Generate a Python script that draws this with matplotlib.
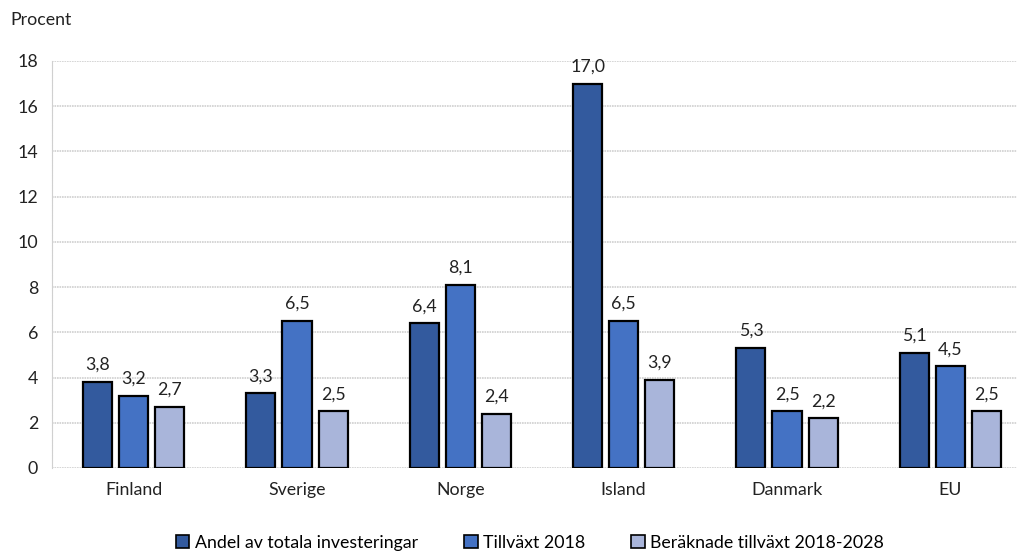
import matplotlib
matplotlib.use("Agg")
import matplotlib.pyplot as plt
import numpy as np
from matplotlib.patches import Patch

categories = ["Finland", "Sverige", "Norge", "Island", "Danmark", "EU"]
andel = [3.8, 3.3, 6.4, 17.0, 5.3, 5.1]
tillvaxt = [3.2, 6.5, 8.1, 6.5, 2.5, 4.5]
beraknad = [2.7, 2.5, 2.4, 3.9, 2.2, 2.5]
series_names = ["Andel av totala investeringar", "Tillväxt 2018", "Beräknade tillväxt 2018-2028"]
colors = ["#335A9E", "#4472C4", "#A9B5DA"]
yticks = [0, 2, 4, 6, 8, 10, 12, 14, 16, 18]

plt.rcParams['font.family'] = ['Lato', 'DejaVu Sans']
FS = 12.8

W, H = 1017, 552
fig = plt.figure(figsize=(W/100, H/100), dpi=100)
left, right = 52, 1032
top, bottom = 61, 468
ax = fig.add_axes([left/W, 1-bottom/H, (right-left)/W, (bottom-top)/H])

x = np.arange(len(categories))
bw = 0.178
step = 0.221
for i, (vals, c, name) in enumerate(zip([andel, tillvaxt, beraknad], colors, series_names)):
    pos = x + (i-1)*step
    ax.bar(pos, vals, width=bw, color=c, edgecolor="black", linewidth=1.6, label=name, zorder=3)
    for p, v in zip(pos, vals):
        ax.text(p, v + 0.4, f"{v:.1f}".replace(".", ","), ha="center", va="bottom", fontsize=FS, color="#222222")

ax.set_xlim(-0.5, 5.5)
ax.set_ylim(0, 18)
ax.set_yticks(yticks)
ax.set_yticklabels([str(t) for t in yticks], fontsize=FS, color="#222222")
ax.set_xticks(x)
ax.set_xticklabels(categories, fontsize=FS, color="#222222")
ax.tick_params(axis="both", length=0, pad=10)
ax.tick_params(axis="x", pad=10)
ax.grid(axis="y", color="#D0D0D0", linewidth=1.2, linestyle=(0, (1, 0.5)), zorder=0)
for s in ["top", "right", "bottom"]:
    ax.spines[s].set_visible(False)
ax.spines["left"].set_color("#D0D0D0")
ax.spines["left"].set_linestyle((0, (1, 0.5)))

fig.text(10/W, 1-20/H, "Procent", fontsize=FS, color="#222222", va="center", ha="left")

handles = [Patch(facecolor=c, edgecolor="black", linewidth=1.2) for c in colors]
fig.legend(handles, series_names, loc="center", bbox_to_anchor=(530/W, 1-543/H), ncol=3,
           frameon=False, fontsize=FS, handlelength=0.75, handleheight=0.75, handletextpad=0.3,
           columnspacing=2.6)

fig.savefig("out.png", dpi=100)
